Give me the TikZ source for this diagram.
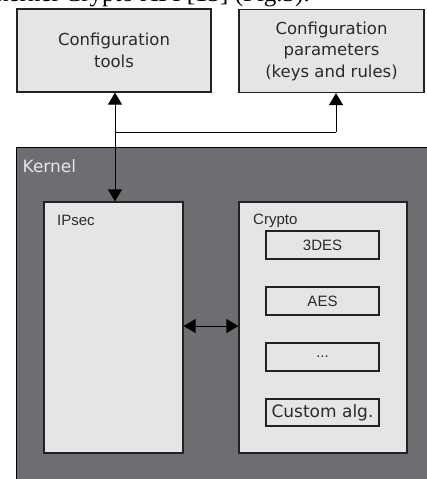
\documentclass[tikz,border=0pt]{standalone}
\usepackage{fontspec}
\setmainfont{Liberation Sans}
\newfontfamily\dejavu{DejaVu Sans}
\newfontfamily\timesf{Liberation Serif}
\usetikzlibrary{arrows.meta}
\definecolor{boxfill}{HTML}{E5E5E5}
\definecolor{kernfill}{HTML}{6E6D72}
\definecolor{edgec}{HTML}{222222}
\definecolor{txtc}{HTML}{2A2A2A}
\definecolor{kerntxt}{HTML}{E6E6E6}
\begin{document}
\begin{tikzpicture}[x=1pt,y=-1pt,
  box/.style={draw=edgec,fill=boxfill,line width=1.2pt,inner sep=0pt,text=txtc},
  cfgbox/.style={box,align=center,font=\dejavu\fontsize{16.5}{21.5}\selectfont,minimum height=83pt},
  algbox/.style={box,minimum width=113pt,minimum height=28pt,font=\fontsize{15}{18}\selectfont},
  lbl/.style={anchor=base west,inner sep=0pt,text=txtc,font=\fontsize{15}{18}\selectfont},
  conn/.style={line width=1pt,black},
  tip/.tip={Triangle[width=14pt,length=12pt]},
  arr/.style={conn,-tip},
  darr/.style={conn,tip-tip}]
\useasboundingbox (0,0) rectangle (426,479);
\node[anchor=base east,inner sep=0pt,font=\timesf\fontsize{25}{30}\selectfont] (caption) at (310,1.5) {kernel Crypto API [13] (Fig.3).};
% kernel
\node[draw=black,fill=kernfill,line width=1pt,minimum width=424pt,minimum height=343pt,inner sep=0pt] (kernel) at (228,318.5) {};
\node[anchor=base west,inner sep=0pt,text=kerntxt,font=\dejavu\fontsize{17}{20}\selectfont] (kernlbl) at (22.5,172) {Kernel};
% config boxes
\node[cfgbox,minimum width=194pt] (tools) at (114,50.5) {Configuration\\tools};
\node[cfgbox,minimum width=185pt] (params) at (331.5,51) {Configuration\\parameters\\(keys and rules)};
% ipsec & crypto
\node[box,minimum width=139pt,minimum height=251pt] (ipsec) at (113.5,327.5) {};
\node[lbl] (ipseclbl) at (57,225) {IPsec};
\node[box,minimum width=168pt,minimum height=251pt] (crypto) at (323,327.5) {};
\node[lbl] (cryptolbl) at (253,224) {Crypto};
\node[algbox] (des) at (322.5,245) {3DES};
\node[algbox] (aes) at (322.5,301) {AES};
\node[algbox] (dots) at (322.5,357) {...};
\node[algbox,minimum height=27pt,font=\dejavu\fontsize{17}{20}\selectfont] (custom) at (322.5,412.5) {Custom alg.};
% connectors
\coordinate (j) at (115,132);
\coordinate (k) at (336,132);
\draw[arr] (j) -- (j |- tools.south);
\draw[arr] (j) -- (j |- ipsec.north);
\draw[conn] (j) -- (k);
\draw[arr] (k) -- (k |- params.south);
\draw[darr] ([yshift=1.5pt]ipsec.east) -- ([yshift=1.5pt]crypto.west);
\end{tikzpicture}
\end{document}
